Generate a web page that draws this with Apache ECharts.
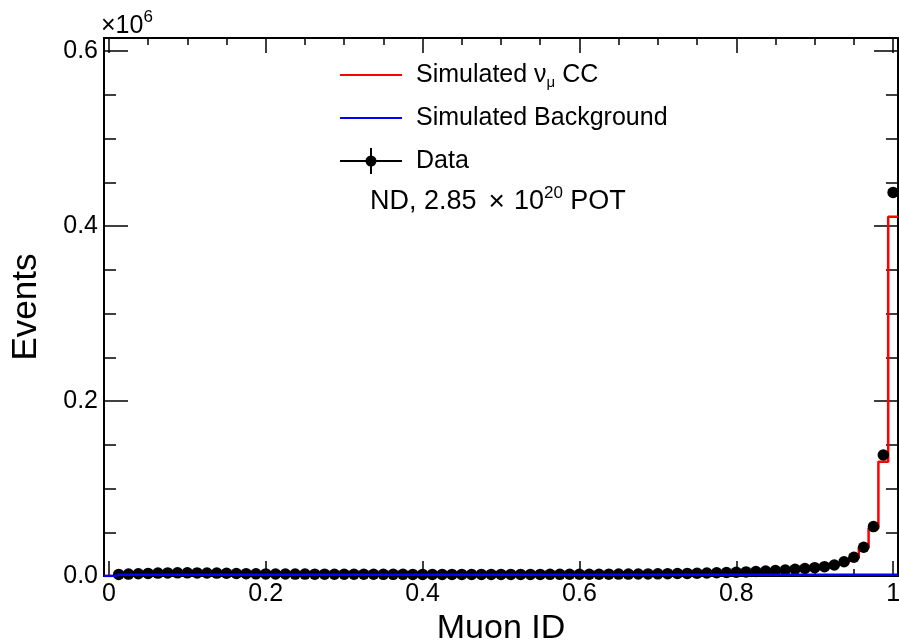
<!DOCTYPE html>
<html><head><meta charset="utf-8">
<script src="https://cdn.jsdelivr.net/npm/echarts@6/dist/echarts.min.js"></script>
<style>html,body{margin:0;padding:0;background:#fff}#chart{width:899px;height:644px}</style>
</head><body><div id="chart"></div>
<script>
// ---- data ----
const binWidth = 0.0125;
const binCenters = Array.from({length: 81}, (_, i) => +(i * binWidth).toFixed(5));
const xMin = -binWidth / 2, xMax = 1 + binWidth / 2;

const dataCounts = [null,
  1800, 2200, 2600, 3000, 3300, 3500, 3600, 3600, 3500, 3400,
  3300, 3100, 2900, 2700, 2500, 2400, 2300, 2250, 2200, 2150,
  2100, 2100, 2050, 2000, 2000, 1950, 1950, 1900, 1900, 1900,
  1850, 1850, 1850, 1800, 1800, 1800, 1800, 1800, 1800, 1800,
  1800, 1850, 1850, 1850, 1900, 1900, 1950, 1950, 2000, 2050,
  2100, 2150, 2200, 2300, 2400, 2500, 2650, 2800, 3000, 3200,
  3400, 3650, 3950, 4300, 4700, 5100, 5600, 6200, 6900, 7700,
  8600, 9500, 10700, 12600, 16300, 21400, 32800, 56500, 138300, 438500];

const simNumuCC = [0,
  1700, 2100, 2500, 2900, 3200, 3400, 3500, 3500, 3400, 3300,
  3200, 3000, 2800, 2600, 2450, 2350, 2250, 2200, 2150, 2100,
  2050, 2050, 2000, 1950, 1950, 1900, 1900, 1850, 1850, 1850,
  1800, 1800, 1800, 1750, 1750, 1750, 1750, 1750, 1750, 1750,
  1750, 1800, 1800, 1800, 1850, 1850, 1900, 1900, 1950, 2000,
  2050, 2100, 2150, 2250, 2350, 2450, 2600, 2750, 2900, 3100,
  3300, 3550, 3850, 4200, 4550, 5000, 5450, 6000, 6700, 7450,
  8300, 9200, 10300, 12100, 15600, 21000, 32500, 54500, 130600, 410600];

const simBackground = [0,
  1300, 1350, 1400, 1400, 1400, 1400, 1400, 1400, 1400, 1400,
  1350, 1350, 1350, 1300, 1300, 1300, 1300, 1300, 1300, 1300,
  1300, 1300, 1300, 1300, 1300, 1300, 1300, 1300, 1300, 1300,
  1300, 1300, 1300, 1300, 1300, 1300, 1300, 1300, 1300, 1300,
  1300, 1300, 1300, 1300, 1300, 1300, 1300, 1300, 1300, 1300,
  1300, 1300, 1300, 1300, 1300, 1300, 1300, 1300, 1300, 1300,
  1300, 1300, 1300, 1300, 1300, 1300, 1300, 1300, 1300, 1300,
  1300, 1300, 1300, 1300, 1300, 1300, 1300, 1300, 1350, 1400];

const xMajorTicks = [0, 0.2, 0.4, 0.6, 0.8, 1];
const xMinorTicks = [0.05, 0.1, 0.15, 0.25, 0.3, 0.35, 0.45, 0.5, 0.55, 0.65, 0.7, 0.75, 0.85, 0.9, 0.95];
const yMajorTicks = [0, 200000, 400000, 600000];
const yMinorTicks = [50000, 100000, 150000, 250000, 300000, 350000, 450000, 500000, 550000];
const yMax = 615000;

// ---- helpers ----
const FONT = 'Liberation Sans, Arial, Helvetica, sans-serif';
function stepPoints(vals) {
  const pts = [[xMin, vals[0]]];
  binCenters.forEach((x, i) => pts.push([x, vals[i]]));
  pts.push([xMax, vals[vals.length - 1]]);
  return pts;
}
const scatterPts = binCenters.map((x, i) => dataCounts[i] == null ? null : [x, dataCounts[i]]).filter(Boolean);

function xAx(grid, pos, ticks, len, line, labels, extra) {
  return Object.assign({
    type: 'value', gridIndex: grid, position: pos, min: xMin, max: xMax,
    axisLine: {show: line, onZero: false, lineStyle: {color: '#000', width: 2}},
    axisTick: {show: true, inside: true, length: len, customValues: ticks, lineStyle: {color: '#000', width: 1.5}},
    axisLabel: labels ? {show: true, customValues: ticks, color: '#000', fontSize: 25, fontFamily: FONT, margin: 6} : {show: false},
    splitLine: {show: false}, minorTick: {show: false}
  }, extra || {});
}
function yAx(grid, pos, ticks, len, line, labels, extra) {
  return Object.assign({
    type: 'value', gridIndex: grid, position: pos, min: 0, max: yMax,
    axisLine: {show: line, onZero: false, lineStyle: {color: '#000', width: 2}},
    axisTick: {show: true, inside: true, length: len, customValues: ticks, lineStyle: {color: '#000', width: 1.5}},
    axisLabel: labels ? {show: true, customValues: ticks, color: '#000', fontSize: 25, fontFamily: FONT, margin: 6,
      formatter: v => (v / 1e6).toFixed(1)} : {show: false},
    splitLine: {show: false}
  }, extra || {});
}

const chart = echarts.init(document.getElementById('chart'), null, {renderer: 'canvas'});
const gridBox = {left: 104, right: 1, top: 38, bottom: 68, outerBoundsMode: 'none', containLabel: false};
chart.setOption({
  animation: false,
  backgroundColor: '#fff',
  grid: [Object.assign({}, gridBox), Object.assign({}, gridBox)],
  xAxis: [
    xAx(0, 'bottom', xMajorTicks, 15, true, true, {
      name: 'Muon ID', nameLocation: 'middle', nameGap: 31,
      nameTextStyle: {fontSize: 34, color: '#000', fontFamily: FONT}
    }),
    xAx(0, 'top', xMajorTicks, 15, true, false),
    xAx(1, 'bottom', xMinorTicks, 7, false, false),
    xAx(1, 'top', xMinorTicks, 7, false, false)
  ],
  yAxis: [
    yAx(0, 'left', yMajorTicks, 24, true, true, {
      name: 'Events', nameLocation: 'middle', nameGap: 60, nameRotate: 90,
      nameTextStyle: {fontSize: 35, color: '#000', fontFamily: FONT}
    }),
    yAx(0, 'right', yMajorTicks, 24, true, false),
    yAx(1, 'left', yMinorTicks, 12, false, false),
    yAx(1, 'right', yMinorTicks, 12, false, false)
  ],
  series: [
    {name: 'Simulated νμ CC', type: 'line', xAxisIndex: 0, yAxisIndex: 0, step: 'middle',
      data: stepPoints(simNumuCC), symbol: 'none', z: 2,
      lineStyle: {color: '#ff0000', width: 2.5}},
    {name: 'Data', type: 'scatter', xAxisIndex: 0, yAxisIndex: 0, data: scatterPts,
      symbol: 'circle', symbolSize: 11.5, z: 3, itemStyle: {color: '#000', opacity: 1}},
    {name: 'Simulated Background', type: 'line', xAxisIndex: 0, yAxisIndex: 0, step: 'middle',
      data: stepPoints(simBackground), symbol: 'none', z: 4,
      lineStyle: {color: '#0000ff', width: 2.5}}
  ],
  graphic: [
    // x10^6 multiplier
    {type: 'text', x: 101, y: 39, z: 10, style: {
      text: '{a|×10}{s|6}', verticalAlign: 'bottom', textVerticalAlign: 'bottom', fill: '#000',
      rich: {a: {fontSize: 25, fontFamily: FONT, lineHeight: 30, verticalAlign: 'bottom', fill: '#000', color: '#000'},
             s: {fontSize: 17, fontFamily: FONT, lineHeight: 18, verticalAlign: 'top', fill: '#000', color: '#000'}}}},
    // legend: red
    {type: 'line', z: 10, shape: {x1: 340, y1: 75, x2: 402, y2: 75}, style: {stroke: '#ff0000', lineWidth: 2}},
    {type: 'text', x: 416, y: 75, z: 10, style: {
      text: '{a|Simulated ν}{s|μ}{a| CC}', verticalAlign: 'middle', textVerticalAlign: 'middle', fill: '#000',
      rich: {a: {fontSize: 25, fontFamily: FONT, lineHeight: 30, fill: '#000', color: '#000'},
             s: {fontSize: 15, fontFamily: FONT, lineHeight: 20, verticalAlign: 'bottom', fill: '#000', color: '#000'}}}},
    // legend: blue
    {type: 'line', z: 10, shape: {x1: 340, y1: 118, x2: 402, y2: 118}, style: {stroke: '#0000ff', lineWidth: 2}},
    {type: 'text', x: 416, y: 118, z: 10, style: {
      text: 'Simulated Background', font: '25px ' + FONT, fill: '#000', verticalAlign: 'middle', textVerticalAlign: 'middle'}},
    // legend: data
    {type: 'line', z: 10, shape: {x1: 340, y1: 161, x2: 402, y2: 161}, style: {stroke: '#000', lineWidth: 2}},
    {type: 'line', z: 10, shape: {x1: 371, y1: 148, x2: 371, y2: 174}, style: {stroke: '#000', lineWidth: 2}},
    {type: 'circle', z: 11, shape: {cx: 371, cy: 161, r: 5.5}, style: {fill: '#000'}},
    {type: 'text', x: 416, y: 161, z: 10, style: {
      text: 'Data', font: '25px ' + FONT, fill: '#000', verticalAlign: 'middle', textVerticalAlign: 'middle'}},
    // exposure label
    {type: 'text', x: 370, y: 202, z: 10, style: {
      text: '{a|ND, 2.85}{x|×}{a|10}{s|20}{a| POT}', verticalAlign: 'middle', textVerticalAlign: 'middle', fill: '#000',
      rich: {a: {fontSize: 27, fontFamily: FONT, lineHeight: 34, verticalAlign: 'middle', fill: '#000', color: '#000'},
             x: {fontSize: 28, fontFamily: FONT, lineHeight: 34, verticalAlign: 'middle', padding: [0, 9, 0, 12], fill: '#000', color: '#000'},
             s: {fontSize: 17, fontFamily: FONT, lineHeight: 16, verticalAlign: 'top', fill: '#000', color: '#000'}}}}
  ]
});
</script>
</body></html>
